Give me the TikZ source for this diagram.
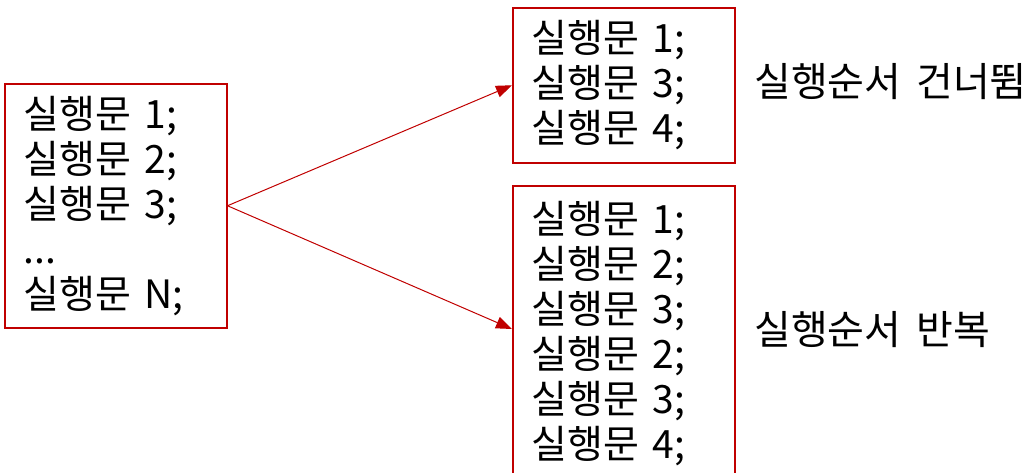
\documentclass[tikz,border=0pt]{standalone}
\usepackage{fontspec}
\setmainfont{Noto Sans CJK KR}
\usetikzlibrary{arrows.meta}
\definecolor{boxred}{HTML}{C00000}
\begin{document}
\begin{tikzpicture}[x=1pt,y=-1pt,
  codebox/.style={draw=boxred, line width=1.5pt, anchor=north west, align=left,
    font=\fontsize{39}{45}\selectfont, inner xsep=19pt, text width=184pt,
    minimum width=222pt},
  lbl/.style={anchor=west, inner sep=0pt, font=\fontsize{40}{45}\selectfont},
  arr/.style={draw=boxred, line width=1pt, -{Triangle[length=16pt,width=12pt]}}]
\useasboundingbox (0,0) rectangle (1030,472);
\node[codebox, minimum height=244pt] (src) at (4,83)
  {실행문 1;\\실행문 2;\\실행문 3;\\...\\실행문 N;};
\node[codebox, minimum height=155pt] (skip) at (512,7)
  {실행문 1;\\실행문 3;\\실행문 4;};
\node[codebox, minimum height=296pt] (rep) at (512,185)
  {실행문 1;\\실행문 2;\\실행문 3;\\실행문 2;\\실행문 3;\\실행문 4;};
\coordinate (repin) at (512,329);
\node[lbl] (skiplbl) at (754,82) {실행순서\hspace{0.15em} 건너뜀};
\node[lbl] (replbl) at (754,330) {실행순서\hspace{0.15em} 반복};
\draw[arr] (src.east) -- (skip.west);
\draw[arr] (src.east) -- (repin);
\end{tikzpicture}
\end{document}
